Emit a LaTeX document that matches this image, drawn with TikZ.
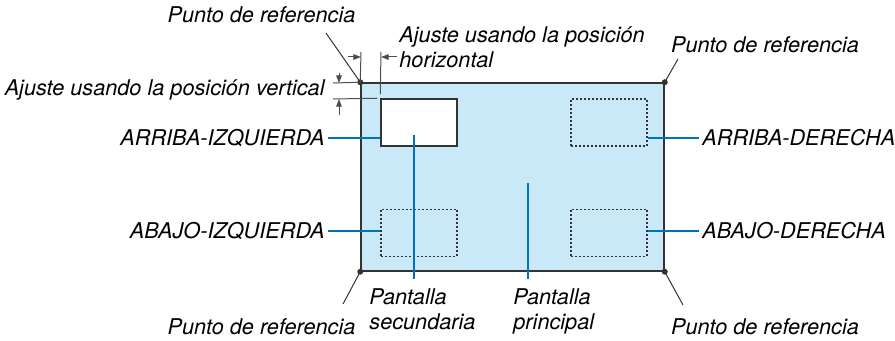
\documentclass[tikz,border=0pt]{standalone}
\usepackage{fontspec}
\setmainfont{TeX Gyre Heros}
\usetikzlibrary{arrows.meta,positioning}
\definecolor{screenblue}{HTML}{C9E9F8}
\definecolor{calloutblue}{HTML}{0072BC}
\definecolor{edgegray}{HTML}{333333}

\begin{document}
\begin{tikzpicture}[x=0.5pt, y=-0.5pt, font=\fontsize{10.85}{12.5}\selectfont\itshape,
  lbl/.style={inner sep=0pt, align=left},
  screen/.style={draw=edgegray, line width=.75pt, inner sep=0pt},
  subscr/.style={draw=edgegray, dash pattern=on 1pt off 1pt, line width=.6pt, inner sep=0pt,
    minimum width=38pt, minimum height=23.5pt},
  callout/.style={draw=calloutblue, line width=1pt},
  leader/.style={draw=edgegray, line width=.5pt},
  dimline/.style={draw=black!70, line width=.5pt},
  dimarrow/.style={-{Triangle[length=3.8pt,width=2.8pt]}, draw=black!70, line width=.5pt}]
  \useasboundingbox (0,0) rectangle (895,341);

  % screens
  \node[screen, fill=screenblue, minimum width=151.5pt, minimum height=94pt] (main) at (512.5,177) {};
  \node[subscr, solid, fill=white, line width=.75pt] (tlscr) at (419,122.5) {};
  \node[subscr] (trscr) at (609,122.5) {};
  \node[subscr] (blscr) at (419,233) {};
  \node[subscr] (brscr) at (609,233) {};

  % position labels
  \node[lbl, anchor=east] (ai) at (325,138) {ARRIBA-IZQUIERDA};
  \node[lbl, anchor=west] (ad) at (702,138) {ARRIBA-DERECHA};
  \node[lbl, anchor=east] (bi) at (325,231) {ABAJO-IZQUIERDA};
  \node[lbl, anchor=west] (bd) at (702,231) {ABAJO-DERECHA};
  \draw[callout] ([xshift=1.5pt]ai.east) -- (ai.east -| tlscr.west);
  \draw[callout] ([xshift=-1.5pt]ad.west) -- (ad.west -| trscr.east);
  \draw[callout] ([xshift=1.5pt]bi.east) -- (bi.east -| blscr.west);
  \draw[callout] ([xshift=-1.5pt]bd.west) -- (bd.west -| brscr.east);

  % screen names
  \node[lbl, anchor=north west] (sec) at (369,288) {Pantalla\\secundaria};
  \node[lbl, anchor=north west] (pri) at (513,288) {Pantalla\\principal};
  \coordinate (sectop) at (414,135);
  \coordinate (secbot) at (414,279);
  \coordinate (pritop) at (528,183);
  \coordinate (pribot) at (528,279);
  \draw[callout] (sectop) -- (secbot);
  \draw[callout] (pritop) -- (pribot);

  % reference points
  \node[lbl] (reftl) at (261.5,15) {Punto de referencia};
  \node[lbl] (reftr) at (765,45) {Punto de referencia};
  \node[lbl] (refbl) at (261.5,327) {Punto de referencia};
  \node[lbl] (refbr) at (765,327) {Punto de referencia};
  \coordinate (tlend) at (326,33);
  \coordinate (trend) at (678,59);
  \coordinate (blend) at (343,304);
  \coordinate (brend) at (683,305);
  \draw[leader] (main.north west) -- (tlend);
  \draw[leader] (main.north east) -- (trend);
  \draw[leader] (main.south west) -- (blend);
  \draw[leader] (main.south east) -- (brend);
  \foreach \c in {north west, north east, south west, south east}
    \fill[edgegray] (main.\c) circle (1.5pt);

  % horizontal adjustment
  \node[lbl, anchor=west] (hadj) at (399,47) {Ajuste usando la posición\\horizontal};
  \coordinate (hleft) at (361,52);
  \coordinate (hright) at (381,52);
  \coordinate (ha) at (361,57);
  \coordinate (hb) at (381,57);
  \draw[dimline] (main.north west) -- (hleft);
  \draw[dimline] ([yshift=2pt]tlscr.north west) -- (hright);
  \draw[dimarrow] ([xshift=-6.5pt]ha) -- (ha);
  \draw[dimarrow] ([xshift=8pt]hb) -- (hb);

  % vertical adjustment
  \node[lbl, anchor=east] (vadj) at (325,90) {Ajuste usando la posición vertical};
  \coordinate (vtop) at (333,83);
  \coordinate (vbot) at (333,99);
  \coordinate (va) at (339,83);
  \coordinate (vb) at (339,99);
  \draw[dimline] (main.north west) -- (vtop);
  \draw[dimline] ([xshift=-1.5pt]tlscr.north west) -- (vbot);
  \draw[dimarrow] ([yshift=5pt]va) -- (va);
  \draw[dimarrow] ([yshift=-8pt]vb) -- (vb);
\end{tikzpicture}
\end{document}
